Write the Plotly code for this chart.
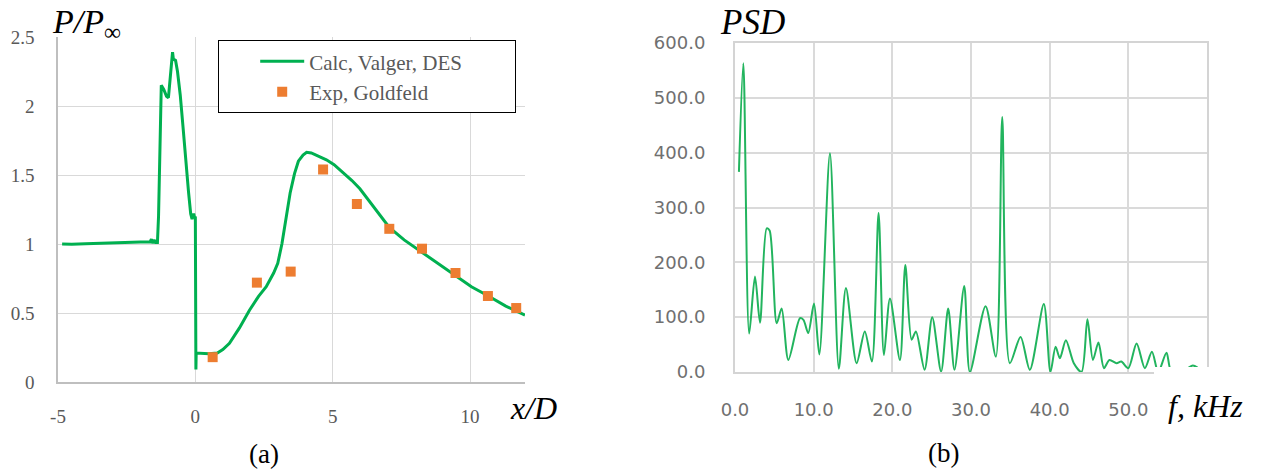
import plotly.graph_objects as go

W, H = 1265, 472

# ---- Panel (a): pressure distribution ----
calc_x = [-4.85, -4.5, -4.0, -3.5, -3.0, -2.5, -2.0, -1.65, -1.6, -1.55, -1.5, -1.45, -1.38,
          -1.34, -1.3, -1.27, -1.24, -1.15, -1.05, -0.98, -0.92, -0.86, -0.83, -0.8, -0.72,
          -0.65, -0.55, -0.45, -0.35, -0.25, -0.17, -0.12, -0.06, -0.03, 0.0, 0.02, 0.03,
          0.5, 0.8, 1.0, 1.24, 1.6, 1.97, 2.3, 2.58, 2.85, 3.0, 3.15, 3.31, 3.45, 3.61, 3.75,
          3.92, 4.05, 4.22, 4.5, 4.77, 5.05, 5.38, 5.7, 5.99, 6.5, 7.06, 7.6, 8.25, 8.9, 9.47,
          10.05, 10.65, 11.3, 12.0]
calc_y = [1.000, 0.998, 1.002, 1.006, 1.009, 1.012, 1.014, 1.015, 1.035, 1.005, 1.03, 1.01, 1.01,
          1.2, 1.7, 2.1, 2.15, 2.12, 2.07, 2.06, 2.2, 2.36, 2.39, 2.34, 2.33,
          2.25, 2.08, 1.85, 1.6, 1.38, 1.22, 1.18, 1.22, 1.19, 1.2, 0.09, 0.21,
          0.205, 0.21, 0.235, 0.28, 0.39, 0.52, 0.62, 0.69, 0.79, 0.86, 1.0, 1.2, 1.37, 1.51, 1.6,
          1.645, 1.665, 1.66, 1.635, 1.61, 1.575, 1.52, 1.46, 1.40, 1.27, 1.12, 1.03, 0.94, 0.85, 0.77,
          0.69, 0.625, 0.55, 0.485]

exp_x = [0.63, 2.24, 3.47, 4.65, 5.88, 7.06, 8.25, 9.47, 10.65, 11.68]
exp_y = [0.18, 0.72, 0.80, 1.54, 1.29, 1.11, 0.966, 0.79, 0.623, 0.536]

a_xticks = [-5, 0, 5, 10]
a_xticklabels = ["-5", "0", "5", "10"]
a_yticks = [0, 0.5, 1, 1.5, 2, 2.5]
a_yticklabels = ["0", "0.5", "1", "1.5", "2", "2.5"]

# ---- Panel (b): PSD ----
psd_f = [0.5, 1.06, 1.8, 2.54, 3.18, 4.03, 4.4, 5.3, 5.93, 6.78, 8.26, 8.7, 9.31, 10.04, 10.72,
         12.07, 13.2, 14.1, 15.46, 16.5, 17.4, 18.25, 18.93, 19.7, 20.97, 21.65, 22.45, 23.0,
         24.1, 25.07, 26.2, 27.1, 27.9, 29.14, 29.86, 31.85, 33.16, 33.97, 34.94, 36.3, 37.48,
         39.26, 40.1, 40.75, 41.3, 42.06, 43.07, 44.05, 44.8, 45.5, 46.2, 46.9, 47.6, 48.5,
         49.1, 50.0, 51.05, 52.1, 53.0, 53.8, 54.85, 55.5, 57.3, 58.2, 58.8]
psd_p = [365, 563, 70, 174, 90, 262, 258, 89, 116, 22, 98, 95, 71, 125, 32,
         399, 6, 153, 16, 74, 19, 290, 31, 134, 22, 195, 59, 74,
         4, 100, 1, 116, 4, 157, 0, 120, 28, 465, 16, 64, 4,
         124, 0, 46, 25, 58, 16, 0, 96, 22, 54, 7, 22, 16,
         19, 7, 52, 7, 37, 0, 35, 0, 5, 12, 8]

b_xticks = [0, 10, 20, 30, 40, 50]
b_xticklabels = ["0.0", "10.0", "20.0", "30.0", "40.0", "50.0"]
b_yticks = [0, 100, 200, 300, 400, 500, 600]
b_yticklabels = ["0.0", "100.0", "200.0", "300.0", "400.0", "500.0", "600.0"]


def pxx(x):
    return x / W


def pxy(y):
    return 1 - y / H


SERIF = "Liberation Serif, Times New Roman, serif"
NB = "\u00a0"

fig = go.Figure()
fig.add_trace(go.Scatter(x=calc_x, y=calc_y, mode="lines", name="Calc, Valger, DES" + NB * 9,
                         line=dict(color="#00b050", width=3), xaxis="x", yaxis="y"))
fig.add_trace(go.Scatter(x=exp_x, y=exp_y, mode="markers", name="Exp, Goldfeld",
                         marker=dict(symbol="square", size=10, color="#ed7d31"),
                         xaxis="x", yaxis="y"))
fig.add_trace(go.Scatter(x=psd_f, y=psd_p, mode="lines", showlegend=False,
                         line=dict(color="#22b45e", width=2, shape="spline", smoothing=0.8),
                         xaxis="x2", yaxis="y2"))

fig.update_layout(
    template="none",
    width=W, height=H,
    margin=dict(l=0, r=0, t=0, b=0, pad=0, autoexpand=False),
    paper_bgcolor="white", plot_bgcolor="white",
    showlegend=True,
    legend=dict(x=pxx(218), y=pxy(40), xanchor="left", yanchor="top",
                bordercolor="#000000", borderwidth=1.2, bgcolor="white",
                font=dict(family=SERIF, size=21, color="#595959"),
                itemwidth=44, indentation=36, tracegroupgap=0),
    xaxis=dict(domain=[pxx(58), pxx(525)], anchor="y", range=[-5, 12], automargin=False,
               tickvals=a_xticks, ticktext=a_xticklabels, ticks="", showgrid=True,
               gridcolor="#d9d9d9", gridwidth=1,
               zeroline=False, showline=True, linecolor="#bfbfbf", linewidth=1.5,
               tickfont=dict(family=SERIF, size=19, color="#595959"), ticklabelstandoff=16),
    yaxis=dict(domain=[1 - 382 / H, 1 - 37 / H], anchor="x", range=[0, 2.5], automargin=False,
               tickvals=a_yticks, ticktext=a_yticklabels, ticks="", showgrid=True,
               gridcolor="#d9d9d9", gridwidth=1, zeroline=False, showline=True,
               linecolor="#bfbfbf", linewidth=1.5,
               tickfont=dict(family=SERIF, size=19, color="#595959"), ticklabelstandoff=18),
    xaxis2=dict(domain=[pxx(735), pxx(1207)], anchor="y2", range=[0, 60], automargin=False,
                tickvals=b_xticks, ticktext=b_xticklabels, ticks="", showgrid=True,
                gridcolor="#dadada", gridwidth=2, zeroline=False, showline=True, mirror=True,
                linecolor="#d4d4d4", linewidth=2,
                tickfont=dict(family="DejaVu Sans, sans-serif", size=18, color="#707070"),
                ticklabelstandoff=20),
    yaxis2=dict(domain=[1 - 372 / H, 1 - 43 / H], anchor="x2", range=[0, 600], automargin=False,
                tickvals=b_yticks, ticktext=b_yticklabels, ticks="", showgrid=True,
                gridcolor="#dadada", gridwidth=2, zeroline=False, showline=True, mirror=True,
                linecolor="#d4d4d4", linewidth=2,
                tickfont=dict(family="DejaVu Sans, sans-serif", size=18, color="#707070"),
                ticklabelstandoff=24),
)

# white box of the "f, kHz" label covering the corner of panel (b)
fig.add_shape(type="rect", xref="paper", yref="paper",
              x0=pxx(1154), x1=pxx(1216), y0=pxy(395), y1=pxy(367),
              fillcolor="white", line=dict(width=0), layer="above")

ann = [
    dict(text="<i>P/P</i><sub>∞</sub>", x=pxx(50), y=pxy(24), xanchor="left", yanchor="middle", size=34),
    dict(text="<i>PSD</i>", x=pxx(718), y=pxy(23), xanchor="left", yanchor="middle", size=35),
    dict(text="<i>x/D</i>", x=pxx(508), y=pxy(408), xanchor="left", yanchor="middle", size=32),
    dict(text="<i>f, kHz</i>", x=pxx(1166), y=pxy(406), xanchor="left", yanchor="middle", size=32),
    dict(text="(a)", x=pxx(264), y=pxy(454), xanchor="center", yanchor="middle", size=27),
    dict(text="(b)", x=pxx(943), y=pxy(453), xanchor="center", yanchor="middle", size=27),
]
for a in ann:
    fig.add_annotation(text=a["text"], x=a["x"], y=a["y"], xref="paper", yref="paper",
                       xanchor=a["xanchor"], yanchor=a["yanchor"], showarrow=False,
                       font=dict(family=SERIF, size=a["size"], color="#000000"))

fig.write_html("out.html")
